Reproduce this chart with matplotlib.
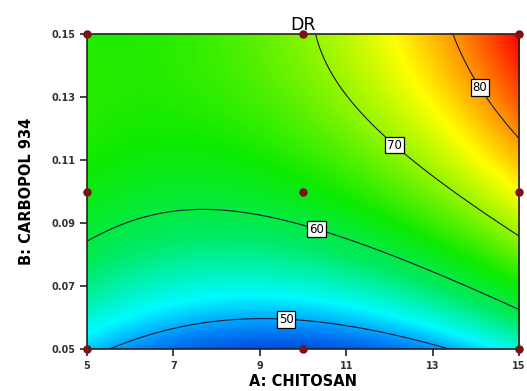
import numpy as np
import matplotlib
matplotlib.use("Agg")
import matplotlib.pyplot as plt
from matplotlib.colors import LinearSegmentedColormap

# Quadratic response-surface model for DR in coded units
# x1 = (A - 10) / 5, x2 = (B - 0.10) / 0.05
coef_names = ["b0", "A", "B", "AB", "A2", "B2"]
coef_values = [62.684, 6.227, 11.518, 4.887, 6.122, -4.870]

contour_levels = [50, 60, 70, 80]
label_positions = [(9.61, 0.0605), (10.39, 0.0915), (12.18, 0.1157), (14.10, 0.1332)]

design_A = [5, 5, 5, 10, 10, 10, 15, 15, 15]
design_B = [0.05, 0.10, 0.15, 0.05, 0.10, 0.15, 0.05, 0.10, 0.15]

x_ticks = [5, 7, 9, 11, 13, 15]
y_ticks = [0.05, 0.07, 0.09, 0.11, 0.13, 0.15]

c = dict(zip(coef_names, coef_values))
A = np.linspace(5, 15, 400)
B = np.linspace(0.05, 0.15, 400)
AA, BB = np.meshgrid(A, B)
x1 = (AA - 10) / 5
x2 = (BB - 0.10) / 0.05
Z = (c["b0"] + c["A"] * x1 + c["B"] * x2 + c["AB"] * x1 * x2
     + c["A2"] * x1 ** 2 + c["B2"] * x2 ** 2)

vmin, vmax = Z.min(), Z.max()
def frac(v):
    return (v - vmin) / (vmax - vmin)
cmap = LinearSegmentedColormap.from_list("de", [
    (0.0, (0.0, 0.30, 0.88)),
    (frac(49.0), (0.0, 0.55, 0.98)),
    (frac(52.5), (0.0, 0.98, 1.0)),
    (frac(58.0), (0.0, 0.92, 0.40)),
    (frac(63.5), (0.05, 0.92, 0.0)),
    (frac(75.0), (1.0, 1.0, 0.0)),
    (frac(80.5), (1.0, 0.55, 0.0)),
    (1.0, (1.0, 0.0, 0.0)),
])

fig = plt.figure(figsize=(5.27, 3.91), dpi=100)
ax = fig.add_axes([0.165, 0.1074, 0.82, 0.8056])
ax.imshow(Z, origin="lower", extent=[5, 15, 0.05, 0.15], aspect="auto",
          cmap=cmap, vmin=vmin, vmax=vmax, interpolation="bilinear")
cs = ax.contour(AA, BB, Z, levels=contour_levels, colors="#1a1a3a", linewidths=0.8)
labels = ax.clabel(cs, fmt="%d", manual=label_positions, inline=True,
                   inline_spacing=1, fontsize=8.5, colors="black")
for t in labels:
    t.set_rotation(0)
    t.set_bbox(dict(boxstyle="square,pad=0.15", facecolor="white",
                    edgecolor="black", linewidth=0.9))

ax.scatter(design_A, design_B, s=26, color="#7a1414", zorder=5, clip_on=False)

ax.set_xlim(5, 15)
ax.set_ylim(0.05, 0.15)
ax.set_xticks(x_ticks)
ax.set_yticks(y_ticks)
ax.set_xticklabels([str(v) for v in x_ticks])
ax.set_yticklabels([f"{v:.2f}" for v in y_ticks])
ax.tick_params(direction="out", length=5, width=1.2, labelsize=7, colors="#222222")
for lab in ax.get_xticklabels() + ax.get_yticklabels():
    lab.set_fontweight("bold")
    lab.set_color("#333333")
for s in ax.spines.values():
    s.set_linewidth(1.2)
    s.set_color("#222222")

ax.set_title("DR", fontsize=12.5, pad=3)
ax.set_xlabel("A: CHITOSAN", fontsize=10.5, fontweight="bold", labelpad=2)
ax.set_ylabel("B: CARBOPOL 934", fontsize=10.5, fontweight="bold", labelpad=12)

fig.savefig("out.png", dpi=100)
